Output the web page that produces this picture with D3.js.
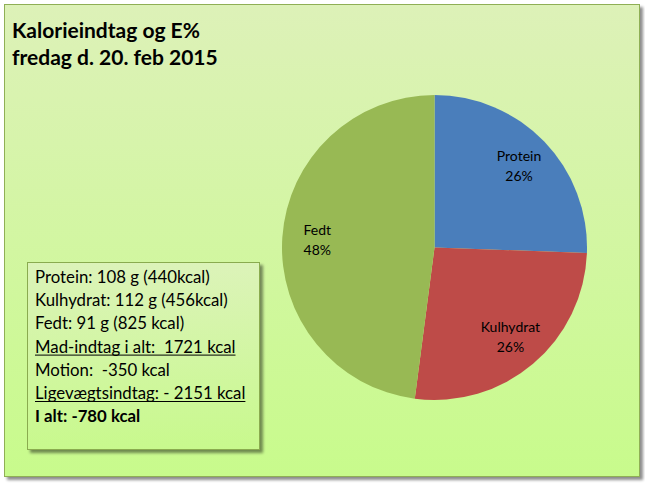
<!DOCTYPE html>
<html><head><meta charset="utf-8">
<script src="https://cdn.jsdelivr.net/npm/d3@7"></script>
<style>body{margin:0;background:#fff;}svg{display:block;}text{white-space:pre;}</style>
</head><body>
<script>
const categories = ["Protein", "Kulhydrat", "Fedt"];
const kcalValues = [440, 456, 825];
const percentLabels = ["26%", "26%", "48%"];
const sliceColors = ["#4a7ebb", "#be4b48", "#98b954"];
const titleLines = ["Kalorieindtag og E%", "fredag d. 20. feb 2015"];
const infoLines = [
  {t: "Protein: 108 g (440kcal)", u: false, b: false},
  {t: "Kulhydrat: 112 g (456kcal)", u: false, b: false},
  {t: "Fedt: 91 g (825 kcal)", u: false, b: false},
  {t: "Mad-indtag i alt:  1721 kcal", u: true, b: false},
  {t: "Motion:  -350 kcal", u: false, b: false},
  {t: "Ligevægtsindtag: - 2151 kcal", u: true, b: false},
  {t: "I alt: -780 kcal", u: false, b: true}
];

const W = 645, H = 485;
const FONT = "Lato, 'Open Sans', sans-serif";
const svg = d3.select("body").append("svg").attr("width", W).attr("height", H);
const defs = svg.append("defs");
const g1 = defs.append("linearGradient").attr("id","bg").attr("x1",0).attr("y1",0).attr("x2",0).attr("y2",1);
g1.append("stop").attr("offset","0%").attr("stop-color","#ddf1b8");
g1.append("stop").attr("offset","100%").attr("stop-color","#c8fb8c");
const g2 = defs.append("linearGradient").attr("id","bx").attr("x1",0).attr("y1",0).attr("x2",0).attr("y2",1);
g2.append("stop").attr("offset","0%").attr("stop-color","#dcf3b9");
g2.append("stop").attr("offset","100%").attr("stop-color","#c8f98d");
const f = defs.append("filter").attr("id","sh").attr("x","-5%").attr("y","-5%").attr("width","115%").attr("height","115%");
f.append("feGaussianBlur").attr("in","SourceAlpha").attr("stdDeviation",1.5);
f.append("feOffset").attr("dx",2.5).attr("dy",2.5).attr("result","o");
f.append("feComponentTransfer").append("feFuncA").attr("type","linear").attr("slope",0.45);
const fm = f.append("feMerge"); fm.append("feMergeNode"); fm.append("feMergeNode").attr("in","SourceGraphic");

svg.append("rect").attr("x",4.5).attr("y",4.5).attr("width",635).attr("height",472)
  .attr("fill","url(#bg)").attr("stroke","#8faf55").attr("stroke-width",1).attr("filter","url(#sh)");

// title
svg.append("g").selectAll("text").data(titleLines).join("text")
  .attr("x",12).attr("y",(d,i)=>37.5+i*27.5)
  .attr("font-family",FONT).attr("font-weight","bold")
  .attr("font-size",21).attr("fill","#000").text(d=>d);

// pie
const cx = 434.5, cy = 247.5, R = 152.5;
const pie = d3.pie().sort(null).value(d=>d);
const arcs = pie(kcalValues);
const arc = d3.arc().innerRadius(0).outerRadius(R);
const pg = svg.append("g").attr("transform",`translate(${cx},${cy})`);
pg.selectAll("path").data(arcs).join("path")
  .attr("d",arc).attr("fill",(d,i)=>sliceColors[i]).attr("stroke","none");
const labelArc = d3.arc().innerRadius(R*0.77).outerRadius(R*0.77);
const lg = pg.selectAll("g.lab").data(arcs).join("g").attr("class","lab")
  .attr("transform",d=>{const c=labelArc.centroid(d);return `translate(${c[0]},${c[1]})`;});
lg.append("text").attr("text-anchor","middle").attr("y",-5)
  .attr("font-family",FONT).attr("font-size",14).attr("fill","#000")
  .text((d,i)=>categories[i]);
lg.append("text").attr("text-anchor","middle").attr("y",15)
  .attr("font-family",FONT).attr("font-size",14).attr("fill","#000")
  .text((d,i)=>percentLabels[i]);

// info box
svg.append("rect").attr("x",27.5).attr("y",262.5).attr("width",232).attr("height",187)
  .attr("fill","url(#bx)").attr("stroke","#8aab4f").attr("stroke-width",1).attr("filter","url(#sh)");
const tg = svg.append("g");
infoLines.forEach((l,i)=>{
  const y = 283 + i*23.2;
  const t = tg.append("text").attr("x",35).attr("y",y)
    .attr("font-family",FONT).attr("font-size",16.8)
    .attr("font-weight", l.b ? "bold" : "normal").attr("fill","#000").text(l.t);
  if (l.u) {
    const w = t.node().getComputedTextLength();
    tg.append("line").attr("x1",35).attr("x2",35+w).attr("y1",y+2.5).attr("y2",y+2.5)
      .attr("stroke","#000").attr("stroke-width",1);
  }
});
</script>
</body></html>
